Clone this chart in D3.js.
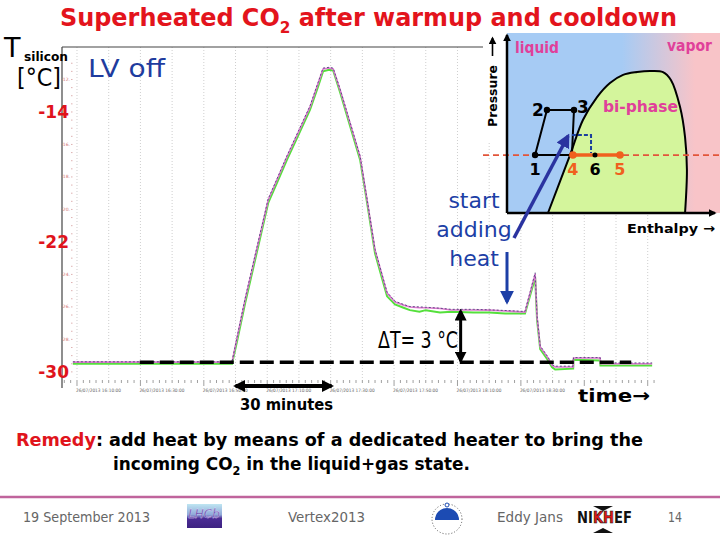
<!DOCTYPE html>
<html><head><meta charset="utf-8">
<script src="https://cdn.jsdelivr.net/npm/d3@7"></script>
<style>body{margin:0;background:#fff}svg{display:block}</style>
</head><body>
<svg id="c" width="720" height="540"></svg>
<script>
// ---------- main chart data (minutes since 16:10, temperature in °C) ----------
const times = [-1.3, 10, 20, 30, 40, 48.9, 50.5, 53.0, 56.0, 60.3, 63.0, 66.2, 70.0, 73.5, 76.0, 77.6, 79.5, 80.8, 83.0, 86.1, 89.3, 91.5, 94.0, 96.0, 97.8, 100.3, 103.0, 105.0, 108.0, 110.0, 114.5, 118.0, 125.0, 130.0, 135.0, 141.3, 144.5, 145.1, 146.1, 148.6, 149.8, 150.8, 156.5, 156.6, 165.0, 165.1, 181.4];
const tempPink = [-29.40, -29.40, -29.40, -29.40, -29.40, -29.40, -27.90, -25.58, -23.04, -19.42, -18.21, -16.77, -15.18, -13.69, -12.27, -11.35, -11.29, -11.35, -12.65, -14.68, -16.77, -19.42, -22.50, -23.89, -25.15, -25.70, -25.89, -26.01, -26.05, -26.05, -26.10, -26.19, -26.19, -26.20, -26.25, -26.32, -23.98, -26.63, -28.47, -29.15, -29.58, -29.70, -29.70, -29.15, -29.15, -29.50, -29.50];
const tempGreen = [-29.50, -29.50, -29.50, -29.50, -29.50, -29.50, -28.10, -25.80, -23.25, -19.60, -18.40, -16.95, -15.35, -13.85, -12.45, -11.50, -11.40, -11.45, -12.80, -14.85, -16.95, -19.60, -22.70, -24.10, -25.35, -25.85, -26.05, -26.20, -26.30, -26.20, -26.35, -26.30, -26.35, -26.35, -26.40, -26.40, -24.20, -26.80, -28.60, -29.30, -29.70, -29.85, -29.80, -29.25, -29.30, -29.60, -29.60];
const tempPurple = [-29.38, -29.38, -29.38, -29.38, -29.38, -29.38, -27.85, -25.50, -22.95, -19.35, -18.15, -16.70, -15.10, -13.62, -12.20, -11.30, -11.25, -11.30, -12.60, -14.62, -16.72, -19.38, -22.45, -23.85, -25.10, -25.65, -25.85, -25.98, -26.00, -26.02, -26.08, -26.15, -26.15, -26.18, -26.22, -26.28, -23.90, -26.55, -28.40, -29.10, -29.55, -29.65, -29.65, -29.12, -29.12, -29.45, -29.45];
const baselineTemp = -29.4;
const plateauTemp = -26.19;
const dashedStart = 19.8, dashedEnd = 174.8;
const yBigTicks = [-14, -22, -30];
const ySmallTicks = [-12, -16, -18, -20, -24, -26, -28];
const xTickMinutes = [0, 20, 40, 60, 80, 100, 120, 140];
const xTickLabels = ["26/07/2013 16:10:00", "26/07/2013 16:30:00", "26/07/2013 16:50:00", "26/07/2013 17:10:00", "26/07/2013 17:30:00", "26/07/2013 17:50:00", "26/07/2013 18:10:00", "26/07/2013 18:30:00"];
const arrow30 = [50, 80.3];

// ---------- inset P-H diagram data (enthalpy %, pressure %) ----------
const domeH = [19.7, 30.3, 36.5, 43.3, 49.5, 55.8, 62.5, 68.8, 75.0, 78.8, 83.2, 85.6, 86.5, 85.6];
const domeP = [0, 32.2, 51.7, 64.4, 72.2, 76.7, 78.3, 78.9, 78.3, 73.9, 58.9, 42.2, 23.9, 0];
const cycleH = [13.5, 19.2, 32.2, 31.2];
const cycleP = [32.2, 57.2, 57.2, 32.2];
const heatH = [31.7, 54.3], heatP = 32.2;
const midH = 42.3;
const bracketH = [31.2, 40.4, 40.4], bracketP = [43.3, 43.3, 33.3];

const svg = d3.select("#c");
const F = "'DejaVu Sans', sans-serif";
const defs = svg.append("defs");
function marker(id, color, size) {
  defs.append("marker").attr("id", id).attr("viewBox", "0 0 10 10")
    .attr("refX", 8).attr("refY", 5).attr("markerUnits", "userSpaceOnUse")
    .attr("markerWidth", size).attr("markerHeight", size).attr("orient", "auto-start-reverse")
    .append("path").attr("d", "M0,0 L10,5 L0,10 z").attr("fill", color);
}
marker("ab", "#000", 12);
marker("ab2", "#000", 8);
marker("abl", "#2a33a0", 14);
marker("abl2", "#1d3fa6", 14);

const x = d3.scaleLinear().domain([-4.73, 182.3]).range([62, 655]);
const y = d3.scaleLinear().domain([-30.5, -10]).range([380, 47]);

// gridlines
svg.append("g").selectAll("line").data(d3.range(0, 181, 10)).join("line")
  .attr("x1", d => x(d)).attr("x2", d => x(d)).attr("y1", 47).attr("y2", 380)
  .attr("stroke", "#cfcfcf").attr("stroke-width", 1).attr("stroke-dasharray", "1,2");

// axes frame
svg.append("line").attr("x1", 62).attr("x2", 483).attr("y1", 47).attr("y2", 47).attr("stroke", "#444").attr("stroke-width", 1.2);
svg.append("line").attr("x1", 62).attr("x2", 62).attr("y1", 47).attr("y2", 388).attr("stroke", "#444").attr("stroke-width", 1.2);

// x ticks
svg.append("g").selectAll("line").data(d3.range(-4, 183, 2)).join("line")
  .attr("x1", d => x(d)).attr("x2", d => x(d)).attr("y1", 380).attr("y2", d => d % 20 === 0 ? 386 : 383)
  .attr("stroke", "#777").attr("stroke-width", 0.7);
svg.append("g").selectAll("text").data(xTickMinutes).join("text")
  .attr("x", d => x(d) - 1).attr("y", 392).attr("font-family", F).attr("font-size", 4.6)
  .attr("fill", "#666").attr("textLength", 45).attr("lengthAdjust", "spacingAndGlyphs")
  .text((d, i) => xTickLabels[i]);

// y small ticks
svg.append("g").selectAll("text").data(ySmallTicks).join("text")
  .attr("x", 70).attr("y", d => y(d) + 1.5).attr("text-anchor", "end")
  .attr("font-family", F).attr("font-size", 4.5).attr("fill", "#d07070").text(d => d + ".");
svg.append("g").selectAll("line").data(d3.range(-30, -10.5, 0.5)).join("line")
  .attr("x1", 71).attr("x2", 72.5).attr("y1", d => y(d)).attr("y2", d => y(d))
  .attr("stroke", "#d09090").attr("stroke-width", 0.7);

// series
const line = vals => d3.line().x((d, i) => x(times[i])).y(d => y(d))(vals);
svg.append("path").attr("d", line(tempGreen)).attr("fill", "none").attr("stroke", "#55e03c").attr("stroke-width", 2);
svg.append("path").attr("d", line(tempPink)).attr("fill", "none").attr("stroke", "#dd7ad0").attr("stroke-width", 1.6);
svg.append("path").attr("d", line(tempPurple)).attr("fill", "none").attr("stroke", "#5f4a86").attr("stroke-width", 1).attr("stroke-dasharray", "2,2");

// dashed reference line
svg.append("line").attr("x1", x(dashedStart)).attr("x2", x(dashedEnd)).attr("y1", y(baselineTemp)).attr("y2", y(baselineTemp))
  .attr("stroke", "#000").attr("stroke-width", 3.5).attr("stroke-dasharray", "14,6");

// Delta T arrow
svg.append("line").attr("x1", x(121)).attr("x2", x(121)).attr("y1", y(plateauTemp) + 1).attr("y2", y(baselineTemp) - 1)
  .attr("stroke", "#000").attr("stroke-width", 3)
  .attr("marker-start", "url(#ab)").attr("marker-end", "url(#ab)");
svg.append("text").attr("x", 378).attr("y", 348).attr("font-family", F).attr("font-size", 23)
  .attr("textLength", 80).attr("lengthAdjust", "spacingAndGlyphs").text("ΔT= 3 °C");

// 30 minutes arrow
svg.append("line").attr("x1", x(arrow30[0])).attr("x2", x(arrow30[1])).attr("y1", 386).attr("y2", 386)
  .attr("stroke", "#000").attr("stroke-width", 4)
  .attr("marker-start", "url(#ab)").attr("marker-end", "url(#ab)");
svg.append("text").attr("x", 240).attr("y", 410).attr("font-family", F).attr("font-weight", "bold").attr("font-size", 15)
  .attr("textLength", 93).attr("lengthAdjust", "spacingAndGlyphs").text("30 minutes");
svg.append("text").attr("x", 578).attr("y", 402).attr("font-family", F).attr("font-weight", "bold").attr("font-size", 18)
  .attr("textLength", 72).attr("lengthAdjust", "spacingAndGlyphs").text("time→");

// y big labels
svg.append("g").selectAll("text").data(yBigTicks).join("text")
  .attr("x", 69).attr("y", d => y(d) + 6).attr("text-anchor", "end")
  .attr("font-family", F).attr("font-weight", "bold").attr("font-size", 17).attr("fill", "#e0141c").text(d => d);

// T silicon label
svg.append("text").attr("x", 4).attr("y", 57).attr("font-family", F).attr("font-size", 27).text("T");
svg.append("text").attr("x", 24).attr("y", 61).attr("font-family", F).attr("font-weight", "bold").attr("font-size", 12)
  .attr("textLength", 44).attr("lengthAdjust", "spacingAndGlyphs").text("silicon");
svg.append("text").attr("x", 17).attr("y", 86).attr("font-family", F).attr("font-size", 24)
  .attr("textLength", 44).attr("lengthAdjust", "spacingAndGlyphs").text("[°C]");

svg.append("text").attr("x", 88).attr("y", 77).attr("font-family", F).attr("font-size", 24).attr("fill", "#1f3c9e")
  .attr("textLength", 77).attr("lengthAdjust", "spacingAndGlyphs").text("LV off");

// title
const t = svg.append("text").attr("x", 60).attr("y", 26).attr("font-family", F).attr("font-weight", "bold")
  .attr("font-size", 25).attr("fill", "#e3141c").attr("textLength", 617).attr("lengthAdjust", "spacingAndGlyphs");
t.append("tspan").text("Superheated CO");
t.append("tspan").attr("dy", 7).attr("font-size", 16).text("2");
t.append("tspan").attr("dy", -7).text(" after warmup and cooldown");

// ---------- inset ----------
const hx = d3.scaleLinear().domain([0, 100]).range([507, 715]);
const py = d3.scaleLinear().domain([0, 100]).range([213, 33]);
svg.append("rect").attr("x", 483).attr("y", 30).attr("width", 24).attr("height", 112).attr("fill", "#fff");
const grad = defs.append("linearGradient").attr("id", "bg").attr("gradientUnits", "userSpaceOnUse")
  .attr("x1", 622).attr("x2", 695).attr("y1", 0).attr("y2", 0);
grad.append("stop").attr("offset", 0).attr("stop-color", "#a6cbf4");
grad.append("stop").attr("offset", 1).attr("stop-color", "#f8c4c8");
svg.append("rect").attr("x", hx(0)).attr("y", py(100)).attr("width", 720 - hx(0)).attr("height", py(0) - py(100)).attr("fill", "url(#bg)");
const domePts = domeH.map((h, i) => [hx(h), py(domeP[i])]);
svg.append("path").attr("d", d3.line().curve(d3.curveCatmullRom.alpha(0.5))(domePts))
  .attr("fill", "#d4f59c").attr("stroke", "#000").attr("stroke-width", 2);
// red dashed isobar
svg.append("line").attr("x1", 483).attr("x2", 720).attr("y1", py(heatP)).attr("y2", py(heatP))
  .attr("stroke", "#e2553a").attr("stroke-width", 1.8).attr("stroke-dasharray", "6,4");
// cycle
const cyc = cycleH.map((h, i) => [hx(h), py(cycleP[i])]);
svg.append("path").attr("d", d3.line()(cyc) + "Z").attr("fill", "none").attr("stroke", "#000").attr("stroke-width", 2);
svg.append("path").attr("d", d3.line()(bracketH.map((h, i) => [hx(h), py(bracketP[i])])))
  .attr("fill", "none").attr("stroke", "#1b3f9c").attr("stroke-width", 2).attr("stroke-dasharray", "4,2");
svg.append("line").attr("x1", hx(heatH[0])).attr("x2", hx(heatH[1])).attr("y1", py(heatP)).attr("y2", py(heatP))
  .attr("stroke", "#f0601e").attr("stroke-width", 3.5);
svg.append("g").selectAll("circle").data([0, 1, 2]).join("circle")
  .attr("cx", i => hx(cycleH[i])).attr("cy", i => py(cycleP[i])).attr("r", 3.2).attr("fill", "#000");
svg.append("circle").attr("cx", hx(midH)).attr("cy", py(heatP)).attr("r", 2.5).attr("fill", "#000");
svg.append("g").selectAll("circle.o").data(heatH).join("circle")
  .attr("cx", d => hx(d)).attr("cy", py(heatP)).attr("r", 3.8).attr("fill", "#f0601e");
// axes of inset
svg.append("line").attr("x1", hx(0)).attr("x2", hx(0)).attr("y1", py(0)).attr("y2", py(100) + 2)
  .attr("stroke", "#000").attr("stroke-width", 2.5).attr("marker-end", "url(#ab2)");
svg.append("line").attr("x1", hx(0)).attr("x2", hx(100)).attr("y1", py(0)).attr("y2", py(0))
  .attr("stroke", "#000").attr("stroke-width", 2.5).attr("marker-end", "url(#ab2)");
// inset labels
const lab = (txt, xx, yy, size, color, anchor, len) => {
  const e = svg.append("text").attr("x", xx).attr("y", yy).attr("font-family", F).attr("font-weight", "bold")
    .attr("font-size", size).attr("fill", color).attr("text-anchor", anchor || "start").text(txt);
  if (len) e.attr("textLength", len).attr("lengthAdjust", "spacingAndGlyphs");
  return e;
};
lab("liquid", 515, 53, 15, "#e0409a", "start", 44);
lab("vapor", 667, 51, 15, "#e0409a", "start", 45);
lab("bi-phase", 603, 112, 15, "#e0409a", "start", 75);
lab("2", hx(cycleH[1]) - 3, py(cycleP[1]) + 6, 17, "#000", "end");
lab("3", hx(cycleH[2]) + 3, py(cycleP[2]) + 3, 17, "#000", "start");
lab("1", hx(cycleH[0]), py(heatP) + 20, 16, "#000", "middle");
lab("4", hx(heatH[0]), py(heatP) + 20, 16, "#f0601e", "middle");
lab("6", hx(midH), py(heatP) + 20, 16, "#000", "middle");
lab("5", hx(heatH[1]), py(heatP) + 20, 16, "#f0601e", "middle");
lab("Enthalpy →", 627, 233, 13, "#000", "start", 88);
svg.append("text").attr("transform", "translate(497,127) rotate(-90)").attr("font-family", F).attr("font-weight", "bold")
  .attr("font-size", 12).attr("textLength", 62).attr("lengthAdjust", "spacingAndGlyphs").text("Pressure");
svg.append("line").attr("x1", 492.5).attr("x2", 492.5).attr("y1", 56).attr("y2", 38)
  .attr("stroke", "#000").attr("stroke-width", 1.6).attr("marker-end", "url(#ab2)");

// start adding heat
[["start", 200], ["adding", 229], ["heat", 258]].forEach(d => {
  svg.append("text").attr("x", 474).attr("y", d[1] + 8).attr("text-anchor", "middle").attr("font-family", F)
    .attr("font-size", 22).attr("fill", "#1d3fa6").text(d[0]);
});
svg.append("line").attr("x1", 514).attr("x2", 568).attr("y1", 238).attr("y2", 136)
  .attr("stroke", "#2a33a0").attr("stroke-width", 3.5).attr("marker-end", "url(#abl)");
svg.append("line").attr("x1", 507).attr("x2", 507).attr("y1", 252).attr("y2", 302)
  .attr("stroke", "#1d3fa6").attr("stroke-width", 3).attr("marker-end", "url(#abl2)");

// remedy text
const r1 = svg.append("text").attr("x", 16).attr("y", 446).attr("font-family", F).attr("font-weight", "bold")
  .attr("font-size", 18).attr("textLength", 627).attr("lengthAdjust", "spacingAndGlyphs");
r1.append("tspan").attr("fill", "#e0141c").text("Remedy");
r1.append("tspan").attr("fill", "#000").text(": add heat by means of a dedicated heater to bring the");
const r2 = svg.append("text").attr("x", 113).attr("y", 470).attr("font-family", F).attr("font-weight", "bold")
  .attr("font-size", 18).attr("textLength", 357).attr("lengthAdjust", "spacingAndGlyphs");
r2.append("tspan").text("incoming CO");
r2.append("tspan").attr("dy", 5).attr("font-size", 12).text("2");
r2.append("tspan").attr("dy", -5).text(" in the liquid+gas state.");

// footer
svg.append("line").attr("x1", 0).attr("x2", 720).attr("y1", 497).attr("y2", 497).attr("stroke", "#c0649c").attr("stroke-width", 2.5);
const ft = (txt, xx, len) => svg.append("text").attr("x", xx).attr("y", 522).attr("font-family", F)
  .attr("font-size", 14).attr("fill", "#666").attr("textLength", len).attr("lengthAdjust", "spacingAndGlyphs").text(txt);
ft("19 September 2013", 23, 127);
ft("Vertex2013", 288, 77);
ft("Eddy Jans", 497, 66);
ft("14", 668, 14);
const lg = defs.append("linearGradient").attr("id", "lhcb").attr("x1", 0).attr("x2", 0).attr("y1", 0).attr("y2", 1);
lg.append("stop").attr("offset", 0).attr("stop-color", "#bfe6f2");
lg.append("stop").attr("offset", 0.45).attr("stop-color", "#8fa8d8");
lg.append("stop").attr("offset", 0.6).attr("stop-color", "#4b2c94");
lg.append("stop").attr("offset", 1).attr("stop-color", "#3d2282");
svg.append("rect").attr("x", 187).attr("y", 504).attr("width", 35).attr("height", 24).attr("fill", "url(#lhcb)");
svg.append("text").attr("x", 204).attr("y", 518).attr("text-anchor", "middle").attr("font-family", F).attr("font-style", "italic")
  .attr("font-size", 12).attr("fill", "#5a3aa0").attr("stroke", "#e8e0ff").attr("stroke-width", 0.3).text("LHCb");
svg.append("circle").attr("cx", 447).attr("cy", 519).attr("r", 15).attr("fill", "#fff").attr("stroke", "#333")
  .attr("stroke-width", 0.8).attr("stroke-dasharray", "1,2");
svg.append("path").attr("d", "M435,520 A12,12 0 0 1 459,520 Z").attr("fill", "#1c4bb3");
svg.append("circle").attr("cx", 447).attr("cy", 505).attr("r", 2).attr("fill", "#fff").attr("stroke", "#1c4bb3");
const nk = svg.append("text").attr("x", 577).attr("y", 523).attr("font-family", F).attr("font-weight", "bold")
  .attr("font-size", 15).attr("textLength", 55).attr("lengthAdjust", "spacingAndGlyphs");
nk.append("tspan").attr("fill", "#111").text("NI");
nk.append("tspan").attr("fill", "#e01818").attr("stroke", "#111").attr("stroke-width", 0.6).text("KH");
nk.append("tspan").attr("fill", "#111").text("EF");
svg.append("path").attr("d", "M593,506 L613,506 L603,511 Z M593,533 L613,533 L603,528 Z").attr("fill", "#111");
</script>
</body></html>
